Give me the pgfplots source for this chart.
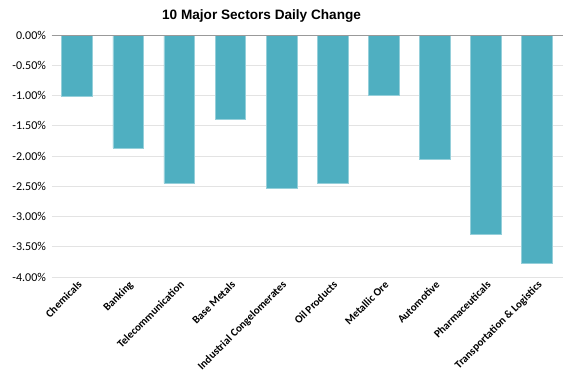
\documentclass[border=0pt]{standalone}
\usepackage{pgfplots}
\pgfplotsset{compat=1.18}
\usepackage{fontspec}
\setmainfont{Carlito}
\newfontfamily\titlefont{Liberation Sans}
\usetikzlibrary{calc}
\definecolor{barc}{HTML}{4FAFC1}
\definecolor{gridc}{HTML}{E3E3E3}
\begin{document}
\begin{tikzpicture}
\begin{axis}[
  scale only axis,
  width=511pt, height=242pt,
  xmin=-0.5, xmax=9.5,
  ymin=-4, ymax=0,
  ytick={-4,-3.5,...,0},
  yticklabel={\pgfmathprintnumber[fixed,fixed zerofill,precision=2]{\tick}\%},
  /pgf/number format/assume math mode=true,
  yticklabel style={font=\fontsize{12}{14}\selectfont, xshift=-2pt},
  xtick={0,...,9},
  xticklabels={Chemicals,Banking,Telecommunication,Base Metals,Industrial Congelomerates,Oil Products,Metallic Ore,Automotive,Pharmaceuticals,Transportation \& Logistics},
  xticklabel style={font=\fontsize{11}{13}\selectfont\bfseries, rotate=45, anchor=north east, inner sep=1pt, yshift=-1pt, xshift=-1pt},
  major tick length=0pt,
  axis line style={draw=none},
  ymajorgrids, grid style={gridc, line width=0.8pt},
  title={\titlefont\bfseries\fontsize{13.6}{16}\selectfont 10 Major Sectors Daily Change},
  title style={at={(rel axis cs:0.411,1)}, anchor=south, yshift=3pt},
  ybar, bar width=0.6,
  clip=false,
]
\addplot[fill=barc, draw=barc!60!white, line width=0.6pt] coordinates {
 (0,-1.01) (1,-1.87) (2,-2.45) (3,-1.40) (4,-2.53) (5,-2.45) (6,-0.99) (7,-2.05) (8,-3.29) (9,-3.77)};
\draw[gray!80, line width=0.8pt] (axis cs:-0.5,0) -- (axis cs:9.5,0);
\end{axis}
\pgfresetboundingbox
\path ($(current axis.south west)+(-51.5pt,-108pt)$) rectangle ($(current axis.north east)+(14.4pt,35pt)$);
\end{tikzpicture}
\end{document}
